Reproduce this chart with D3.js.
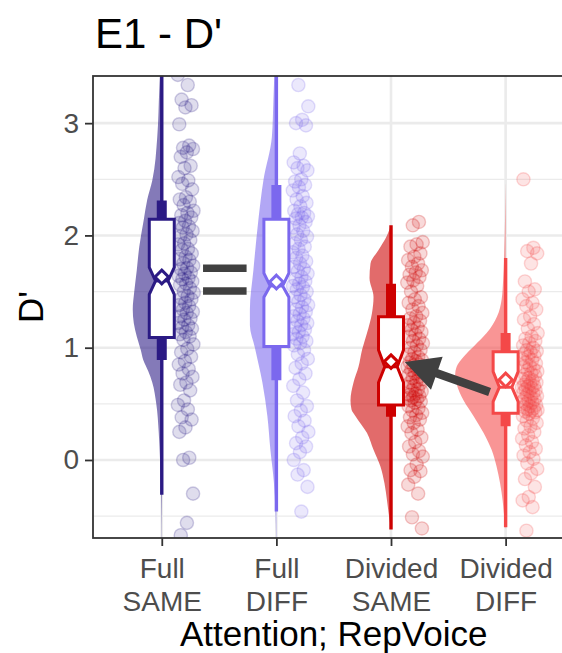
<!DOCTYPE html>
<html>
<head>
<meta charset="utf-8">
<script src="https://cdn.jsdelivr.net/npm/d3@7"></script>
<style>
  body { margin: 0; background: #fff; }
  svg { display: block; font-family: "Liberation Sans", Arial, Helvetica, sans-serif; }
</style>
</head>
<body>
<svg id="chart" width="562" height="653"></svg>
<script>
// ---- data ----
const categories = ["Full\nSAME", "Full\nDIFF", "Divided\nSAME", "Divided\nDIFF"];
const yTicks = [0, 1, 2, 3];
const yMinorTicks = [-0.5, 0.5, 1.5, 2.5];

// box summaries
const q1 = [1.09, 1.01, 0.49, 0.416];
const q3 = [2.145, 2.145, 1.275, 0.965];
const medians = [1.595, 1.55, 0.83, 0.648];
const notchLo = [1.475, 1.45, 0.69, 0.52];
const notchHi = [1.715, 1.665, 0.98, 0.787];
const means = [1.63, 1.585, 0.876, 0.713];

// interval bars
const inner66Lo = [0.89, 0.71, 0.385, 0.30];
const inner66Hi = [2.31, 2.45, 1.57, 1.13];
const outer95Lo = [-0.31, -0.46, -0.62, -0.60];
const outer95Hi = [3.60, 3.60, 2.09, 1.80];

// individual D' scores
const pointsFullSame = [3.43, 3.34, 3.21, 3.16, 3.14, 2.99, 2.80, 2.78, 2.77, 2.74, 2.70, 2.62, 2.60, 2.52, 2.49, 2.46, 2.41, 2.34, 2.32, 2.30, 2.27, 2.22, 2.20, 2.18, 2.16,
  2.13, 2.11, 2.08, 2.07, 2.04, 2.01, 1.99, 1.96, 1.93, 1.92, 1.88, 1.87, 1.84, 1.81, 1.79, 1.78, 1.75, 1.73, 1.71, 1.70, 1.67, 1.66, 1.64, 1.62, 1.61,
  1.59, 1.57, 1.56, 1.53, 1.50, 1.49, 1.46, 1.44, 1.43, 1.40, 1.38, 1.37, 1.34, 1.32, 1.31, 1.28, 1.26, 1.25, 1.22, 1.20, 1.18, 1.17, 1.14, 1.12, 1.10,
  1.07, 1.03, 0.99, 0.96, 0.92, 0.88, 0.85, 0.81, 0.77, 0.74, 0.69, 0.67, 0.62, 0.53, 0.49, 0.45, 0.38, 0.36, 0.29, 0.25, 0.02, 0.00, -0.30, -0.56, -0.67];
const pointsFullDiff = [3.34, 3.15, 3.03, 3.00, 2.98, 2.73, 2.65, 2.62, 2.60, 2.58, 2.50, 2.48, 2.45, 2.43, 2.40, 2.35, 2.32, 2.29, 2.26, 2.22, 2.20, 2.19, 2.17, 2.16, 2.15,
  2.12, 2.09, 2.07, 2.04, 2.01, 1.99, 1.96, 1.93, 1.90, 1.88, 1.85, 1.82, 1.80, 1.77, 1.75, 1.72, 1.70, 1.68, 1.66, 1.63, 1.61, 1.59, 1.57, 1.55, 1.54,
  1.52, 1.50, 1.47, 1.45, 1.43, 1.41, 1.38, 1.36, 1.34, 1.32, 1.30, 1.28, 1.26, 1.24, 1.22, 1.20, 1.18, 1.16, 1.14, 1.12, 1.10, 1.08, 1.06, 1.04, 1.02,
  0.98, 0.94, 0.90, 0.86, 0.82, 0.77, 0.72, 0.66, 0.60, 0.53, 0.48, 0.44, 0.39, 0.35, 0.30, 0.25, 0.20, 0.15, 0.12, 0.07, 0.00, -0.09, -0.13, -0.24, -0.46];
const pointsDividedSame = [2.12, 2.09, 1.94, 1.92, 1.90, 1.84, 1.81, 1.78, 1.75, 1.72, 1.69, 1.67, 1.65, 1.63, 1.60, 1.58, 1.55, 1.50, 1.45, 1.43, 1.40, 1.37, 1.34, 1.31, 1.28,
  1.26, 1.24, 1.22, 1.20, 1.18, 1.16, 1.14, 1.12, 1.10, 1.08, 1.06, 1.04, 1.02, 1.00, 0.98, 0.96, 0.94, 0.92, 0.90, 0.89, 0.88, 0.87, 0.85, 0.84, 0.83,
  0.81, 0.80, 0.78, 0.77, 0.76, 0.74, 0.73, 0.72, 0.70, 0.69, 0.68, 0.66, 0.65, 0.63, 0.62, 0.61, 0.59, 0.58, 0.57, 0.56, 0.55, 0.54, 0.53, 0.52, 0.51,
  0.48, 0.46, 0.44, 0.42, 0.40, 0.38, 0.36, 0.33, 0.30, 0.27, 0.24, 0.20, 0.16, 0.12, 0.08, 0.05, 0.03, -0.04, -0.09, -0.10, -0.15, -0.22, -0.30, -0.51, -0.61];
const pointsDividedDiff = [2.50, 1.89, 1.86, 1.84, 1.75, 1.59, 1.52, 1.50, 1.43, 1.40, 1.37, 1.34, 1.28, 1.25, 1.21, 1.17, 1.13, 1.10, 1.08, 1.06, 1.04, 1.02, 1.00, 0.98, 0.97,
  0.96, 0.95, 0.93, 0.92, 0.90, 0.89, 0.87, 0.86, 0.84, 0.83, 0.81, 0.80, 0.79, 0.77, 0.76, 0.75, 0.73, 0.72, 0.71, 0.70, 0.69, 0.68, 0.67, 0.66, 0.655,
  0.645, 0.64, 0.63, 0.62, 0.61, 0.60, 0.59, 0.58, 0.57, 0.56, 0.55, 0.54, 0.53, 0.52, 0.51, 0.50, 0.49, 0.48, 0.47, 0.46, 0.45, 0.445, 0.44, 0.43, 0.425,
  0.41, 0.39, 0.37, 0.35, 0.33, 0.30, 0.28, 0.25, 0.22, 0.19, 0.16, 0.13, 0.10, 0.07, 0.04, 0.01, -0.03, -0.08, -0.12, -0.17, -0.24, -0.33, -0.36, -0.42, -0.63];

// violin density profiles: [D', density]
const densityFullSame = [[3.60, 0.02], [3.30, 0.05], [2.88, 0.09], [2.49, 0.19], [2.32, 0.29], [2.14, 0.36], [1.90, 0.45], [1.69, 0.50], [1.50, 0.55],
  [1.34, 0.58], [1.22, 0.56], [1.10, 0.50], [0.98, 0.42], [0.89, 0.37], [0.79, 0.27], [0.69, 0.19], [0.50, 0.11], [0.24, 0.06], [0.00, 0.035],
  [-0.20, 0.02], [-0.45, 0.01], [-0.72, 0.004]];
const densityFullDiff = [[3.60, 0.03], [3.20, 0.06], [2.88, 0.09], [2.49, 0.26], [2.14, 0.36], [1.69, 0.46], [1.34, 0.53], [1.20, 0.53], [1.00, 0.43],
  [0.69, 0.28], [0.39, 0.18], [0.09, 0.12], [-0.20, 0.05], [-0.45, 0.02], [-0.72, 0.005]];
const densityDividedSame = [[2.09, 0.0], [2.00, 0.08], [1.87, 0.25], [1.75, 0.41], [1.62, 0.43], [1.45, 0.35], [1.31, 0.38], [1.13, 0.48], [0.98, 0.58],
  [0.83, 0.65], [0.69, 0.75], [0.53, 0.81], [0.45, 0.79], [0.39, 0.71], [0.24, 0.48], [0.09, 0.35], [-0.06, 0.21], [-0.21, 0.13], [-0.36, 0.08],
  [-0.50, 0.04], [-0.62, 0.0]];
const densityDividedDiff = [[2.48, 0.0], [2.20, 0.01], [1.80, 0.03], [1.60, 0.05], [1.43, 0.08], [1.28, 0.17], [1.13, 0.38], [1.02, 0.62], [0.92, 0.84],
  [0.83, 0.98], [0.76, 1.01], [0.68, 0.98], [0.60, 0.92], [0.53, 0.84], [0.39, 0.64], [0.24, 0.44], [0.09, 0.28], [-0.06, 0.18], [-0.21, 0.11],
  [-0.36, 0.06], [-0.50, 0.03], [-0.62, 0.0]];

const pointSets = [pointsFullSame, pointsFullDiff, pointsDividedSame, pointsDividedDiff];
const densities = [densityFullSame, densityFullDiff, densityDividedSame, densityDividedDiff];
const colors = ["#2b1a84", "#7b68ee", "#cd0000", "#f44848"];

// ---- layout ----
const svg = d3.select("#chart");
const panel = { left: 93, right: 574.4, top: 76, bottom: 538 };

const x = d3.scalePoint().domain(categories).range([panel.left, panel.right]).padding(0.6);
const xAt = t => x(categories[0]) + t * x.step();
const y = d3.scaleLinear().domain([-0.695, 3.42]).range([panel.bottom, panel.top]);
const wScale = d3.scaleLinear().domain([0, 1]).range([0, 50]);

const defs = svg.append("defs");
defs.append("clipPath").attr("id", "panelClip").append("rect")
  .attr("x", panel.left).attr("y", panel.top)
  .attr("width", panel.right - panel.left).attr("height", panel.bottom - panel.top);

// grid
const grid = svg.append("g");
grid.selectAll("line.minor").data(yMinorTicks).join("line")
  .attr("x1", panel.left).attr("x2", panel.right)
  .attr("y1", d => y(d)).attr("y2", d => y(d))
  .attr("stroke", "#ebebeb").attr("stroke-width", 1.3);
grid.selectAll("line.major").data(yTicks).join("line")
  .attr("x1", panel.left).attr("x2", panel.right)
  .attr("y1", d => y(d)).attr("y2", d => y(d))
  .attr("stroke", "#ebebeb").attr("stroke-width", 2.6);
grid.selectAll("line.vmajor").data(categories).join("line")
  .attr("x1", d => x(d)).attr("x2", d => x(d))
  .attr("y1", panel.top).attr("y2", panel.bottom)
  .attr("stroke", "#ebebeb").attr("stroke-width", 2.6);

const plot = svg.append("g").attr("clip-path", "url(#panelClip)");

// half violins on the left of each category
categories.forEach((c, i) => {
  const cx = x(c);
  const area = d3.area()
    .y(d => y(d[0]))
    .x0(cx)
    .x1(d => cx - wScale(d[1]))
    .curve(d3.curveMonotoneY);
  plot.append("path")
    .datum(densities[i].slice().reverse())
    .attr("d", area)
    .attr("fill", colors[i])
    .attr("fill-opacity", 0.58)
    .attr("stroke", "none");
});

// jittered points to the right
categories.forEach((c, i) => {
  const pts = pointSets[i];
  plot.append("g").selectAll("circle").data(pts).join("circle")
    .attr("cx", (d, k) => xAt(i + 0.21 + (((k * 0.6180339887 + i * 0.37) % 1) - 0.5) * 0.14))
    .attr("cy", d => y(d))
    .attr("r", 6.6)
    .attr("fill", colors[i])
    .attr("fill-opacity", 0.15)
    .attr("stroke", colors[i])
    .attr("stroke-opacity", 0.22)
    .attr("stroke-width", 1.4);
});

// interval lines
categories.forEach((c, i) => {
  const cx = x(c);
  plot.append("line")
    .attr("x1", cx).attr("x2", cx)
    .attr("y1", y(outer95Lo[i])).attr("y2", y(outer95Hi[i]))
    .attr("stroke", colors[i]).attr("stroke-width", 3.4);
  plot.append("line")
    .attr("x1", cx).attr("x2", cx)
    .attr("y1", y(inner66Lo[i])).attr("y2", y(inner66Hi[i]))
    .attr("stroke", colors[i]).attr("stroke-width", 10);
});

// notched boxes
const boxHalf = 0.109 * x.step();
categories.forEach((c, i) => {
  const cx = x(c), hw = boxHalf;
  const path = d3.path();
  path.moveTo(cx - hw, y(q3[i]));
  path.lineTo(cx + hw, y(q3[i]));
  path.lineTo(cx + hw, y(notchHi[i]));
  path.lineTo(cx + hw / 2, y(medians[i]));
  path.lineTo(cx + hw, y(notchLo[i]));
  path.lineTo(cx + hw, y(q1[i]));
  path.lineTo(cx - hw, y(q1[i]));
  path.lineTo(cx - hw, y(notchLo[i]));
  path.lineTo(cx - hw / 2, y(medians[i]));
  path.lineTo(cx - hw, y(notchHi[i]));
  path.closePath();
  plot.append("path").attr("d", path.toString())
    .attr("fill", "#fff").attr("stroke", colors[i]).attr("stroke-width", 3)
    .attr("stroke-linejoin", "miter");
  plot.append("line")
    .attr("x1", cx - hw / 2).attr("x2", cx + hw / 2)
    .attr("y1", y(medians[i])).attr("y2", y(medians[i]))
    .attr("stroke", colors[i]).attr("stroke-width", 3);
  // mean marker
  const my = y(means[i]), r = 6.8;
  plot.append("path")
    .attr("d", `M${cx},${my - r}L${cx + r},${my}L${cx},${my + r}L${cx - r},${my}Z`)
    .attr("fill", "#fff").attr("stroke", colors[i]).attr("stroke-width", 3);
});

// annotations: "=" between the Full groups, arrow from Divided DIFF to Divided SAME mean
const annoColor = "#404040";
[1.708, 1.504].forEach(v => {
  svg.append("line")
    .attr("x1", xAt(0.36)).attr("x2", xAt(0.74))
    .attr("y1", y(v)).attr("y2", y(v))
    .attr("stroke", annoColor).attr("stroke-width", 7.5);
});
(function drawArrow() {
  const x1 = xAt(2.86), y1 = y(0.606), x2 = xAt(2.12), y2 = y(0.873);
  const dx = x2 - x1, dy = y2 - y1, L = Math.hypot(dx, dy);
  const ux = dx / L, uy = dy / L, nx = -uy, ny = ux;
  const hl = 34, hw = 17.5, sw = 4.3;
  const bx = x2 - ux * hl, by = y2 - uy * hl;
  const pts = [
    [x1 + nx * sw, y1 + ny * sw], [bx + nx * sw, by + ny * sw], [bx + nx * hw, by + ny * hw],
    [x2, y2], [bx - nx * hw, by - ny * hw], [bx - nx * sw, by - ny * sw], [x1 - nx * sw, y1 - ny * sw]
  ];
  svg.append("path").attr("d", "M" + pts.map(p => p.join(",")).join("L") + "Z")
    .attr("fill", annoColor);
})();

// panel border
svg.append("rect")
  .attr("x", panel.left).attr("y", panel.top)
  .attr("width", panel.right - panel.left).attr("height", panel.bottom - panel.top)
  .attr("fill", "none").attr("stroke", "#333333").attr("stroke-width", 1.8);

// y axis
const yAxis = svg.append("g").attr("transform", `translate(${panel.left},0)`)
  .call(d3.axisLeft(y).tickValues(yTicks).tickSize(8).tickPadding(6).tickFormat(d3.format("d")));
yAxis.select(".domain").remove();
yAxis.selectAll(".tick line").attr("stroke", "#333333").attr("stroke-width", 1.8);
yAxis.selectAll(".tick text").attr("fill", "#4d4d4d").style("font-size", "28px")
  .style("font-family", "'Liberation Sans', Arial, sans-serif");

// x axis
const xAxis = svg.append("g").attr("transform", `translate(0,${panel.bottom})`)
  .call(d3.axisBottom(x).tickSize(8).tickFormat(""));
xAxis.select(".domain").remove();
xAxis.selectAll(".tick line").attr("stroke", "#333333").attr("stroke-width", 1.8);
xAxis.selectAll(".tick").each(function (d) {
  const t = d3.select(this).append("text")
    .attr("fill", "#4d4d4d").attr("text-anchor", "middle")
    .style("font-size", "28px").style("font-family", "'Liberation Sans', Arial, sans-serif");
  d.split("\n").forEach((line, k) => {
    t.append("tspan").attr("x", 0).attr("y", 40 + k * 32.5).text(line);
  });
});

// titles
svg.append("text").attr("x", (panel.left + panel.right) / 2).attr("y", 646)
  .attr("text-anchor", "middle").attr("fill", "#000").style("font-size", "35px")
  .text("Attention; RepVoice");
svg.append("text")
  .attr("transform", `translate(43,${(panel.top + panel.bottom) / 2}) rotate(-90)`)
  .attr("text-anchor", "middle").attr("fill", "#000").style("font-size", "35px")
  .text("D'");
svg.append("text").attr("x", 95).attr("y", 48)
  .attr("fill", "#000").style("font-size", "42px")
  .text("E1 - D'");
</script>
</body>
</html>
